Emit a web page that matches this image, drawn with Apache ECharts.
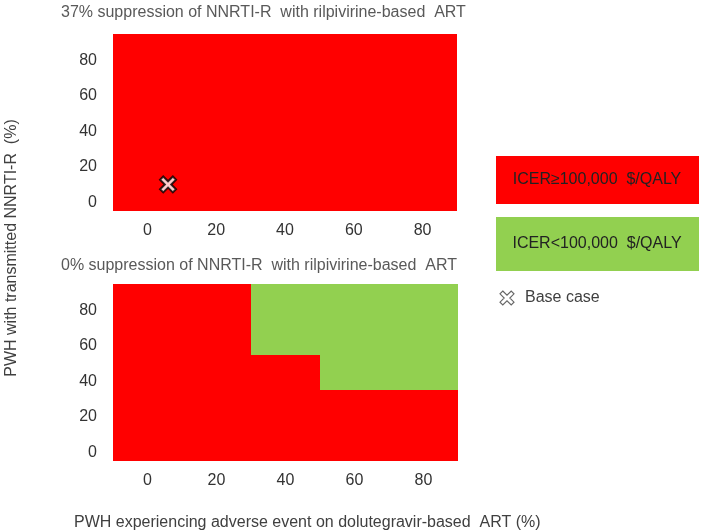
<!DOCTYPE html>
<html>
<head>
<meta charset="utf-8">
<script src="https://cdn.jsdelivr.net/npm/echarts@6/dist/echarts.min.js"></script>
<style>
  html, body { margin: 0; padding: 0; background: #fff; }
  #main { width: 703px; height: 532px; }
</style>
</head>
<body>
<div id="main"></div>
<script>
// adverse event on dolutegravir (%) - cell centres, 20 wide
var xCenters = [0, 20, 40, 60, 80];
// transmitted NNRTI-R (%) - cell centres, 10 tall
var yCenters = [0, 10, 20, 30, 40, 50, 60, 70, 80, 90];
var tickValues = [0, 20, 40, 60, 80];

// 1 = ICER >= 100,000 (red), 0 = ICER < 100,000 (green); rows follow yCenters
var top37 = [
  [1, 1, 1, 1, 1],
  [1, 1, 1, 1, 1],
  [1, 1, 1, 1, 1],
  [1, 1, 1, 1, 1],
  [1, 1, 1, 1, 1],
  [1, 1, 1, 1, 1],
  [1, 1, 1, 1, 1],
  [1, 1, 1, 1, 1],
  [1, 1, 1, 1, 1],
  [1, 1, 1, 1, 1]
];
var bottom0 = [
  [1, 1, 1, 1, 1],
  [1, 1, 1, 1, 1],
  [1, 1, 1, 1, 1],
  [1, 1, 1, 1, 1],
  [1, 1, 1, 0, 0],
  [1, 1, 1, 0, 0],
  [1, 1, 0, 0, 0],
  [1, 1, 0, 0, 0],
  [1, 1, 0, 0, 0],
  [1, 1, 0, 0, 0]
];
var baseCase = [6, 10];

var RED = "#ff0000";
var GREEN = "#92d050";
var crossPts = [[2, 0], [5, 3], [8, 0], [10, 2], [7, 5], [10, 8], [8, 10], [5, 7], [2, 10], [0, 8], [3, 5], [0, 2]];
var crossPath = "path://M" + crossPts.map(function (p) { return p.join(","); }).join(" L") + " Z";

function toCells(matrix) {
  var out = [];
  yCenters.forEach(function (y, i) {
    xCenters.forEach(function (x, j) {
      out.push([x, y, matrix[i][j]]);
    });
  });
  return out;
}

function renderCell(params, api) {
  var x = api.value(0), y = api.value(1);
  var p0 = api.coord([x - 10, y + 5]);
  var p1 = api.coord([x + 10, y - 5]);
  var c = api.value(2) === 1 ? RED : GREEN;
  var x0 = Math.round(p0[0]), y0 = Math.round(p0[1]);
  var x1 = Math.round(p1[0]), y1 = Math.round(p1[1]);
  return {
    type: "rect",
    shape: { x: x0, y: y0, width: x1 - x0, height: y1 - y0 },
    style: { fill: c, stroke: null }
  };
}

function xAxisOf(idx) {
  return {
    type: "value", gridIndex: idx, min: -10, max: 90,
    axisLine: { show: false }, axisTick: { show: false }, splitLine: { show: false },
    axisLabel: { customValues: tickValues, color: "#333", fontSize: 16, margin: 12 }
  };
}
function yAxisOf(idx) {
  return {
    type: "value", gridIndex: idx, min: -5, max: 95,
    axisLine: { show: false }, axisTick: { show: false }, splitLine: { show: false },
    axisLabel: { customValues: tickValues, color: "#333", fontSize: 16, margin: 16 }
  };
}

var chart = echarts.init(document.getElementById("main"));
chart.setOption({
  animation: false,
  textStyle: { fontFamily: "Liberation Sans" },
  title: [
    {
      text: "37% suppression of NNRTI-R  with rilpivirine-based  ART",
      left: 56, top: 0,
      textStyle: { fontSize: 16, fontWeight: "normal", color: "#595959", fontFamily: "Liberation Sans" }
    },
    {
      text: "0% suppression of NNRTI-R  with rilpivirine-based  ART",
      left: 56, top: 253,
      textStyle: { fontSize: 16, fontWeight: "normal", color: "#595959", fontFamily: "Liberation Sans" }
    },
    {
      text: "PWH experiencing adverse event on dolutegravir-based  ART (%)",
      left: 69, top: 510,
      textStyle: { fontSize: 16, fontWeight: "normal", color: "#404040", fontFamily: "Liberation Sans" }
    }
  ],
  grid: [
    { left: 113, top: 34, width: 344, height: 177 },
    { left: 113, top: 284, width: 345, height: 177 }
  ],
  xAxis: [xAxisOf(0), xAxisOf(1)],
  yAxis: [yAxisOf(0), yAxisOf(1)],
  series: [
    {
      type: "custom", xAxisIndex: 0, yAxisIndex: 0,
      renderItem: renderCell, data: toCells(top37)
    },
    {
      type: "custom", xAxisIndex: 1, yAxisIndex: 1,
      renderItem: renderCell, data: toCells(bottom0)
    },
    {
      type: "scatter", xAxisIndex: 0, yAxisIndex: 0, z: 5,
      symbol: crossPath, symbolSize: 16,
      itemStyle: { color: "#fff", borderColor: "#000", borderWidth: 2 },
      data: [baseCase]
    }
  ],
  graphic: [
    {
      type: "text", x: 12, y: 248, rotation: Math.PI / 2,
      style: {
        text: "PWH with transmitted NNRTI-R  (%)", fill: "#404040",
        font: "16px 'Liberation Sans'", align: "center", verticalAlign: "middle"
      }
    },
    {
      type: "rect", shape: { x: 496, y: 156, width: 203, height: 48 },
      style: { fill: RED }
    },
    {
      type: "text", x: 597, y: 180,
      style: {
        text: "ICER\u2265100,000  $/QALY", fill: "#222",
        font: "16px 'Liberation Sans'", align: "center", verticalAlign: "middle"
      }
    },
    {
      type: "rect", shape: { x: 496, y: 217, width: 203, height: 54 },
      style: { fill: GREEN }
    },
    {
      type: "text", x: 597, y: 244,
      style: {
        text: "ICER<100,000  $/QALY", fill: "#222",
        font: "16px 'Liberation Sans'", align: "center", verticalAlign: "middle"
      }
    },
    {
      type: "polygon", x: 500, y: 291, scaleX: 1.4, scaleY: 1.4,
      shape: { points: crossPts },
      style: { fill: "#fff", stroke: "#666", lineWidth: 0.8 }
    },
    {
      type: "text", x: 525, y: 298,
      style: {
        text: "Base case", fill: "#404040",
        font: "16px 'Liberation Sans'", verticalAlign: "middle"
      }
    }
  ]
});
</script>
</body>
</html>
